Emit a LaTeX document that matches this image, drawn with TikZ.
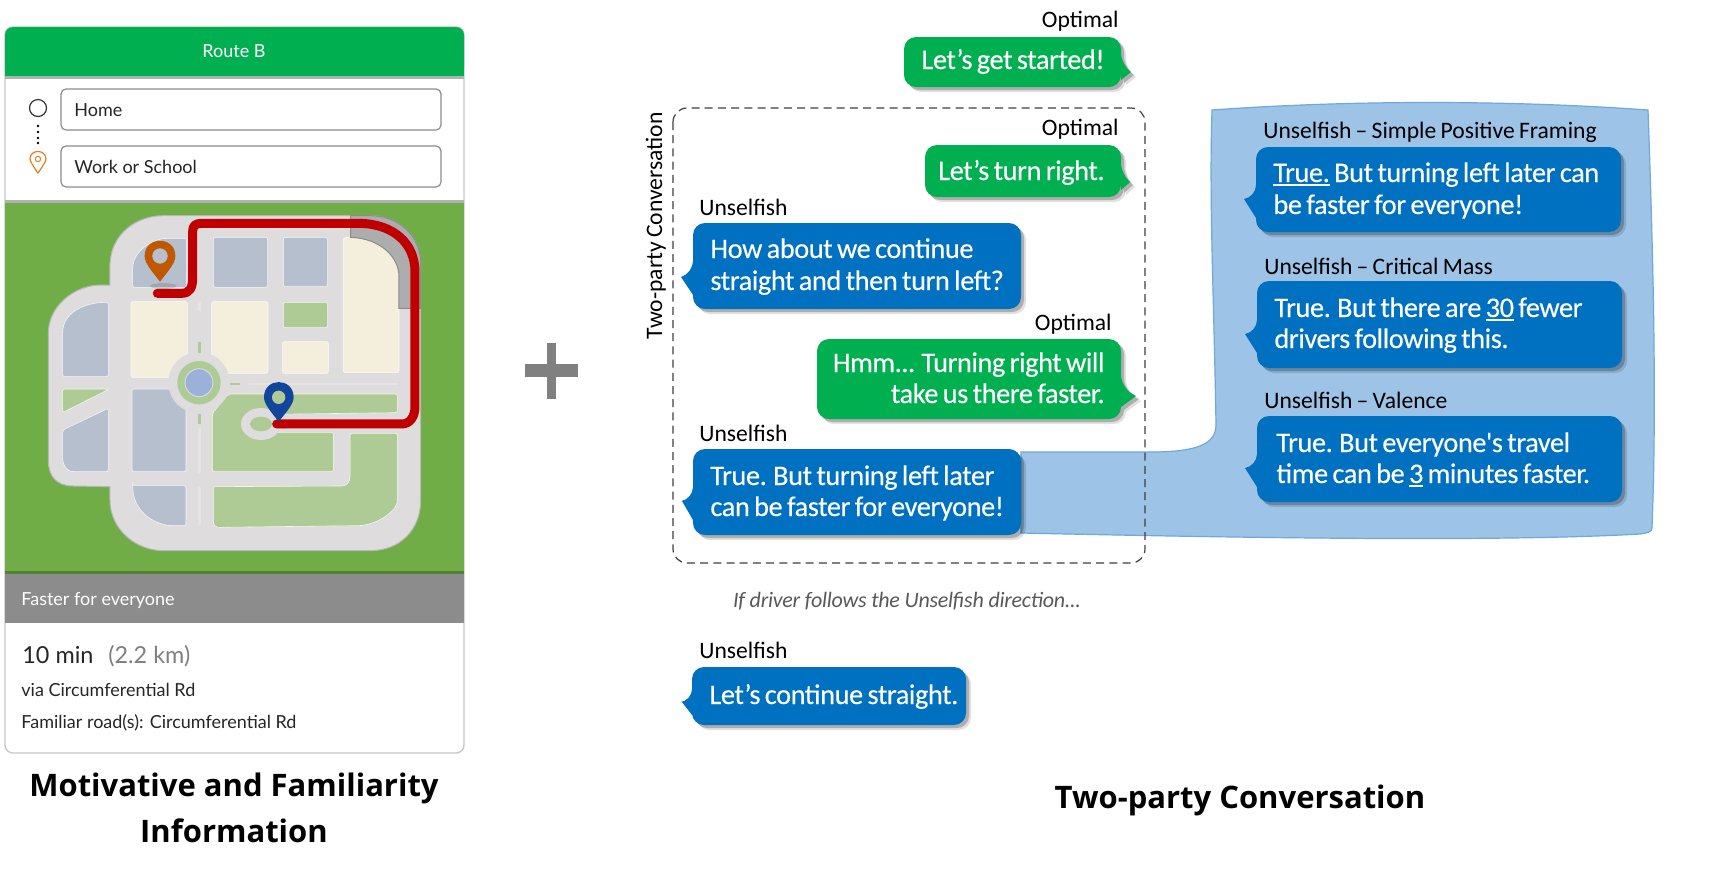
\documentclass[tikz,border=0pt]{standalone}
\usepackage{fontspec}
\setmainfont{Carlito}
\newfontfamily\chatfont{Carlito}[LetterSpace=-1.6,WordSpace=0.72,FakeBold=0.25]
\newfontfamily\labfont{Carlito}[WordSpace=0.8]
\newfontfamily\latofont{Lato}
\newfontfamily\headfont{Open Sans}[BoldFont={Open Sans Bold}]
\usetikzlibrary{calc}
\definecolor{gr}{HTML}{00B050}
\definecolor{bl}{HTML}{0070C0}
\definecolor{callout}{HTML}{9DC3E6}
\definecolor{calloutline}{HTML}{6FA8DC}
\definecolor{mapgreen}{HTML}{70AD47}
\definecolor{road}{HTML}{DEDCDD}
\definecolor{slate}{HTML}{B6BFCD}
\definecolor{cream}{HTML}{F4EEDC}
\definecolor{lgreen}{HTML}{AECB96}
\definecolor{route}{HTML}{C00000}
\definecolor{pinor}{HTML}{C05800}
\definecolor{pinbl}{HTML}{12469C}
\definecolor{roundblue}{HTML}{9BB1D9}
\newsavebox\ulbox
\newcommand\ul[1]{\sbox\ulbox{#1}\rlap{\rule[-1.9pt]{\wd\ulbox}{.75pt}}\usebox\ulbox}
\tikzset{
  lab/.style={anchor=base west,inner sep=0pt,font=\labfont\fontsize{11.8}{13}\selectfont,text=black},
  labr/.style={lab,anchor=base east},
  say/.style={anchor=base west,inner sep=0pt,font=\chatfont\fontsize{14.2}{16}\selectfont,text=white},
  sayr/.style={say,anchor=base east},
  card/.style={anchor=base west,inner sep=0pt,font=\latofont\fontsize{9}{11}\selectfont,text=black!85},
  cardbig/.style={card,font=\latofont\fontsize{11.7}{13}\selectfont},
  head/.style={anchor=base,inner sep=0pt,font=\headfont\bfseries\fontsize{15.5}{20}\selectfont,text=black},
  field/.style={draw=black!45,line width=.6pt,fill=white,rounded corners=2.5pt},
  lotslate/.style={fill=slate,draw=white!85!slate,line width=.3pt,rounded corners=1pt},
  lotcream/.style={fill=cream,draw=white!85!cream,line width=.3pt,rounded corners=1pt},
  lotgreen/.style={fill=lgreen,draw=white!85!lgreen,line width=.3pt,rounded corners=1pt},
  mark1/.style={line width=1.3pt,white!90!black},
  mark2/.style={line width=1.3pt,lgreen},
}
% #1 x1, #2 y1, #3 x2, #4 y2, #5 tip x, #6 tip y, #7 base y1, #8 base y2
\newcommand\bubpath[8]{[rounded corners=6pt] (#1,#2) -- (#3,#2) -- (#3,#7) [sharp corners] -- (#5,#6) -- (#3,#8) [rounded corners=6pt] -- (#3,#4) -- (#1,#4) -- cycle}
\newcommand\rightbubble[8]{%
  \fill[black,opacity=.12] [shift={(5,5)}] \bubpath{#1}{#2}{#3}{#4}{#5}{#6}{#7}{#8};
  \fill[black,opacity=.22] [shift={(3,3)}] \bubpath{#1}{#2}{#3}{#4}{#5}{#6}{#7}{#8};
  \fill[gr] \bubpath{#1}{#2}{#3}{#4}{#5}{#6}{#7}{#8};}
\newcommand\leftbubblepath[8]{[rounded corners=6pt] (#3,#2) -- (#1,#2) -- (#1,#7) [sharp corners] -- (#5,#6) -- (#1,#8) [rounded corners=6pt] -- (#1,#4) -- (#3,#4) -- cycle}
\newcommand\leftbubble[8]{%
  \fill[black,opacity=.12] [shift={(5,5)}] \leftbubblepath{#1}{#2}{#3}{#4}{#5}{#6}{#7}{#8};
  \fill[black,opacity=.22] [shift={(3,3)}] \leftbubblepath{#1}{#2}{#3}{#4}{#5}{#6}{#7}{#8};
  \fill[bl] \leftbubblepath{#1}{#2}{#3}{#4}{#5}{#6}{#7}{#8};}
\begin{document}
\begin{tikzpicture}[x=.5pt,y=-.5pt]
\useasboundingbox (0,0) rectangle (1729,875);
\fill[white] (0,0) rectangle (1729,875);

% ---- card
\draw[black!22,line width=.7pt,fill=white,rounded corners=4pt] (5,27) rectangle (464,753);
\fill[black!30] (5,72) rectangle (464,79);
\fill[gr,rounded corners=4pt] (5,27) -- (464,27) -- (464,76) -- (5,76) -- cycle;
\fill[gr] (5,60) rectangle (464,76);
\node[card,anchor=base,text=white] (routeb) at (234,57) {Route B};
\node[draw=black!80,line width=.6pt,circle,minimum size=8.5pt,inner sep=0pt] (startdot) at (38,108) {};
\fill[black] (38,126) circle (1.3) (38,132) circle (1.3) (38,138) circle (1.3) (38,143) circle (1.3);
\draw[field] (61,89) rectangle (441,130);
\draw[field] (61,146) rectangle (441,187);
\node[card] (home) at (74,116) {Home};
\node[card] (work) at (74,173) {Work or School};
\draw[orange!60!brown,line width=.6pt,fill=white]
  (38,173) .. controls (33,166) and (30,161) .. (30,159) .. controls (30,149) and (46,149) .. (46,159) .. controls (46,161) and (43,166) .. (38,173) -- cycle;
\draw[orange!60!brown,line width=.5pt] (38,159) circle (2.7);

% ---- map
\fill[black!30] (5,200) rectangle (464,204);
\fill[mapgreen] (5,203) rectangle (464,573);
\fill[mapgreen!75!black] (5,571) rectangle (464,575);
\fill[black!45] (5,574) rectangle (464,623);
\node[card,text=white] (faster) at (21,605) {Faster for everyone};

\begin{scope}[shift={(0,200)},x=.5pt/3,y=-.5pt/3]
\path[fill=road,draw=black!28,line width=.5pt]
  (330,255) -- (330,190) .. controls (335,100) and (410,47) .. (490,47) -- (1110,47)
  .. controls (1200,47) and (1262,110) .. (1262,190) -- (1262,900)
  .. controls (1262,990) and (1200,1052) .. (1110,1052) -- (490,1052)
  .. controls (410,1052) and (330,990) .. (330,900) -- (330,860) -- (220,858)
  .. controls (170,858) and (145,830) .. (145,780) -- (145,400)
  .. controls (145,320) and (220,257) .. (300,255) -- cycle;
% slate lots
\draw[lotslate] (640,112) rectangle (803,262);
\draw[lotslate] (850,112) rectangle (983,260);
\draw[lotslate] (398,262) -- (398,205) .. controls (400,160) and (450,115) .. (510,115) -- (560,115) -- (560,262) -- cycle;
\draw[lotslate] (188,530) -- (188,400) .. controls (190,340) and (250,307) .. (325,307) -- (325,530) -- cycle;
\draw[lotslate] (188,690) -- (325,625) -- (325,815) -- (225,815) .. controls (200,815) and (188,795) .. (188,770) -- cycle;
\draw[lotslate] (396,567) rectangle (558,815);
\draw[lotslate] (398,857) -- (558,857) -- (558,977) -- (510,977) .. controls (440,965) and (400,920) .. (398,857) -- cycle;
% cream lots
\draw[lotcream] (393,305) rectangle (562,532);
\draw[lotcream] (635,305) rectangle (804,520);
\draw[lotcream] (848,425) rectangle (985,520);
\draw[lotcream] (1030,113) -- (1090,113) .. controls (1150,120) and (1197,170) .. (1197,230) -- (1197,518) -- (1030,518) -- cycle;
% green lots
\draw[lotgreen] (850,307) rectangle (983,383);
\draw[lotgreen] (188,567) -- (328,567) -- (188,638) -- cycle;
\draw[lotgreen] (685,582) -- (1192,582) -- (1192,638) -- (820,643) -- (820,697) -- (1000,697) -- (1000,815) -- (637,815) -- (637,640) -- cycle;
\draw[lotgreen] (640,860) -- (1020,858) .. controls (1040,858) and (1050,845) .. (1050,825) -- (1050,700) -- (1192,700) -- (1192,900) .. controls (1190,930) and (1140,970) .. (1080,977) -- (660,982) .. controls (645,982) and (640,975) .. (640,960) -- cycle;
% loop
\fill[road] (783,672) ellipse [x radius=60,y radius=48];
\fill[lgreen] (783,672) ellipse [x radius=33,y radius=22];
% roundabout
\fill[road] (597,548) circle [radius=92];
\fill[lgreen] (597,548) circle [radius=65];
\filldraw[fill=roundblue,draw=white!85!black,line width=.5pt] (597,548) circle [radius=42];
% road markings
\draw[mark1] (598,305) -- (598,332);
\draw[mark2] (598,427) -- (598,458);
\draw[mark2] (690,552) -- (720,552);
\draw[mark1] (748,552) -- (1195,552);
\draw[mark2] (598,642) -- (598,672);
\draw[mark1] (598,685) -- (598,820);
\draw[mark1] (598,860) -- (598,975);
% highlighted grey segment
\path[fill=black!32,draw=black!45,line width=.5pt] (1052,47) -- (1052,112) .. controls (1140,115) and (1197,170) .. (1197,230) -- (1197,325) -- (1262,325) -- (1262,190) .. controls (1262,110) and (1200,47) .. (1110,47) -- cycle;
% pin shadows
\fill[black,opacity=.12] (490,258) ellipse [x radius=40,y radius=9];
\fill[black,opacity=.12] (848,675) ellipse [x radius=30,y radius=12];
% route
\draw[route,line width=4.5pt,line cap=round,line join=round]
  (472,280) -- (545,280) .. controls (570,280) and (578,262) .. (578,235) -- (578,95)
  .. controls (578,78) and (585,70) .. (605,70) -- (1080,70)
  .. controls (1180,72) and (1245,130) .. (1245,215) -- (1245,620)
  .. controls (1245,650) and (1230,672) .. (1205,672) -- (830,672);
% pins
\fill[pinor] (480,245) .. controls (455,212) and (434,190) .. (434,168) .. controls (434,107) and (526,107) .. (526,168) .. controls (526,190) and (505,212) .. (480,245) -- cycle;
\fill[slate] (480,168) circle [radius=23];
\fill[pinbl] (836,665) .. controls (815,638) and (792,612) .. (792,592) .. controls (792,531) and (881,531) .. (881,592) .. controls (881,612) and (858,638) .. (836,665) -- cycle;
\fill[lgreen] (836,592) circle [radius=20];
\end{scope}

% card footer text
\node[cardbig] (mins) at (22,663) {10 min};
\node[cardbig,text=black!50] (dist) at (108,663) {(2.2 km)};
\node[card] (via) at (21,696) {via Circumferential Rd};
\node[card] (fam) at (21,728) {Familiar road(s): Circumferential Rd};
\node[head] (hleft1) at (234,796) {Motivative and Familiarity};
\node[head] (hleft2) at (234,842) {Information};

% ---- plus
\fill[black!50] (525,364) rectangle (578,377);
\fill[black!50] (547,343) rectangle (556,399);

% ---- callout
\path[fill=callout,draw=calloutline,line width=.6pt]
  (1021,452) -- (1150,452) .. controls (1195,452) and (1216,445) .. (1216,425)
  .. controls (1214,300) and (1209,200) .. (1212,110)
  .. controls (1350,100) and (1510,100) .. (1648,110)
  .. controls (1653,250) and (1657,400) .. (1652,528) .. controls (1652,532) and (1647,533) .. (1640,534)
  .. controls (1500,542) and (1250,538) .. (1021,533) -- cycle;

% ---- dashed frame
\draw[black!75,line width=.6pt,dash pattern=on 4pt off 2.6pt,rounded corners=7pt] (673,108) rectangle (1145,563);
\node[lab,anchor=base,rotate=90] (tpc) at (662,226) {Two-party Conversation};

% ---- chat
\node[labr] (o1) at (1119,27) {Optimal};
\rightbubble{904}{37}{1121}{87}{1131}{72}{65}{80}
\node[sayr] (s1) at (1105,69) {Let’s get started!};

\node[labr] (o2) at (1119,135) {Optimal};
\rightbubble{925}{145}{1121}{197}{1130}{182}{175}{190}
\node[sayr] (s2) at (1105,180) {Let’s turn right.};

\node[lab] (u1) at (699,215) {Unselfish};
\leftbubble{693}{223}{1021}{309}{681}{277}{273}{295}
\node[say] (s3a) at (710,258) {How about we continue};
\node[say] (s3b) at (710,290) {straight and then turn left?};

\node[labr] (o3) at (1112,330) {Optimal};
\rightbubble{817}{339}{1121}{419}{1136}{396}{387}{407}
\node[sayr] (s4a) at (1105,372) {Hmm... Turning right will};
\node[sayr] (s4b) at (1105,403) {take us there faster.};

\node[lab] (u2) at (699,441) {Unselfish};
\leftbubble{693}{449}{1021}{535}{682}{501}{499}{520}
\node[say] (s5a) at (710,485) {True. But turning left later};
\node[say] (s5b) at (710,516) {can be faster for everyone!};

\node[lab,anchor=base,font=\addfontfeature{LetterSpace=-1.2}\itshape\fontsize{11}{13}\selectfont,text=black!65] (iff) at (907,607) {If driver follows the Unselfish direction...};

\node[lab] (u3) at (699,658) {Unselfish};
\leftbubble{692}{667}{966}{725}{682}{702}{701}{715}
\node[say] (s6) at (709,704) {Let’s continue straight.};

\node[lab] (la) at (1263,138) {Unselfish – Simple Positive Framing};
\leftbubble{1256}{147}{1621}{232}{1244}{199}{197}{218}
\node[say] (a1) at (1273,182) {\ul{True.} But turning left later can};
\node[say] (a2) at (1273,214) {be faster for everyone!};

\node[lab] (lb) at (1264,274) {Unselfish – Critical Mass};
\leftbubble{1257}{281}{1622}{368}{1245}{334}{332}{353}
\node[say] (b1) at (1274,317) {True. But there are \ul{30} fewer};
\node[say] (b2) at (1274,348) {drivers following this.};

\node[lab] (lc) at (1264,408) {Unselfish – Valence};
\leftbubble{1257}{416}{1622}{502}{1245}{468}{466}{487}
\node[say] (c1) at (1276,452) {True. But everyone's travel};
\node[say] (c2) at (1276,483) {time can be \ul{3} minutes faster.};

\node[head] (hright) at (1240,808) {Two-party Conversation};
\end{tikzpicture}
\end{document}
